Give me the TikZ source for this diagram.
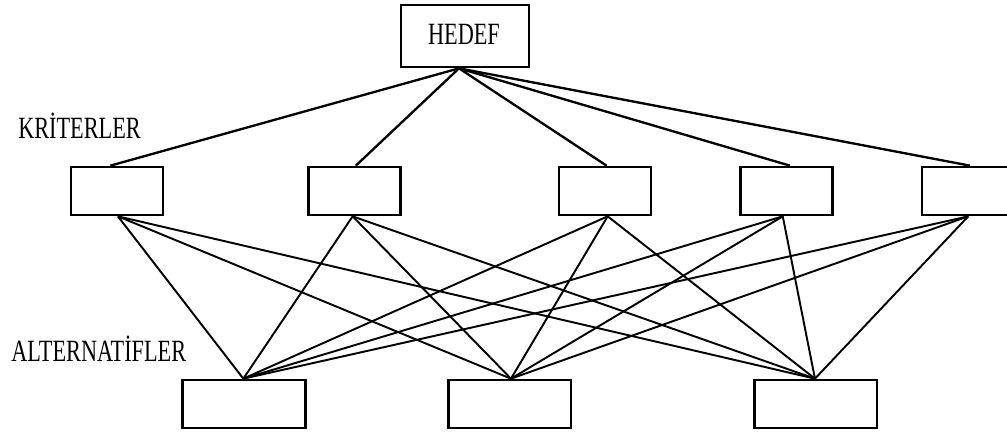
\documentclass[tikz,border=0pt]{standalone}
\usepackage{fontspec}
\newfontfamily\lblfont{Liberation Serif}
\newcommand{\lbltext}[1]{\scalebox{0.72}[1]{\lblfont\fontsize{23.2}{25}\selectfont #1}}
\begin{document}
\begin{tikzpicture}[x=0.75pt,y=-0.75pt,
  box/.style={draw, line width=2pt, rectangle, inner sep=0pt, minimum height=36pt},
  crit/.style={box, minimum width=69pt},
  alt/.style={box, minimum width=92pt},
  lbl/.style={inner sep=0pt},
  hl/.style={line width=1.75pt},
  cl/.style={line width=1.45pt}]
\clip (0,0) rectangle (1007,435);
% goal
\node[box, minimum width=96pt, minimum height=46.5pt] (h) at (465,36) {};
\node[lbl, anchor=base] (ht) at (464,45) {\lbltext{HEDEF}};
% criteria
\node[crit] (c1) at (117,191) {};
\node[crit] (c2) at (354.5,191) {};
\node[crit] (c3) at (605,191) {};
\node[crit] (c4) at (786.5,191) {};
\node[crit] (c5) at (968,191) {};
% alternatives
\node[alt] (a1) at (244,404) {};
\node[alt] (a2) at (509.5,404) {};
\node[alt] (a3) at (815.5,404) {};
% labels
\node[lbl, anchor=base west] (kl) at (18,138) {\lbltext{KRİTERLER}};
\node[lbl, anchor=base west] (al) at (11,361.5) {\lbltext{ALTERNATİFLER}};
% attach points
\coordinate (h0) at ([xshift=-4.5pt]h.south);
\coordinate (c1t) at ([xshift=-5pt]c1.north);
\coordinate (c2t) at ([xshift=1pt]c2.north);
\coordinate (c3t) at ([xshift=1.2pt]c3.north);
\coordinate (c4t) at ([xshift=2.6pt]c4.north);
\coordinate (c5t) at ([xshift=1.5pt]c5.north);
\coordinate (c1b) at ([xshift=0.7pt]c1.south);
\coordinate (c2b) at ([xshift=-1.4pt]c2.south);
\coordinate (c3b) at ([xshift=2pt]c3.south);
\coordinate (c4b) at ([xshift=-2.8pt]c4.south);
\coordinate (c5b) at ([xshift=0.2pt]c5.south);
\coordinate (a1t) at ([xshift=-0.5pt]a1.north);
\coordinate (a2t) at ([xshift=1.1pt]a2.north);
\coordinate (a3t) at ([xshift=-0.4pt]a3.north);
% goal to criteria
\foreach \c in {c1t,c2t,c3t,c4t,c5t} \draw[hl] (h0) -- (\c);
% criteria to alternatives
\foreach \c in {c1b,c2b,c3b,c4b,c5b}
  \foreach \a in {a1t,a2t,a3t}
    \draw[cl] (\c) -- (\a);
\end{tikzpicture}
\end{document}
